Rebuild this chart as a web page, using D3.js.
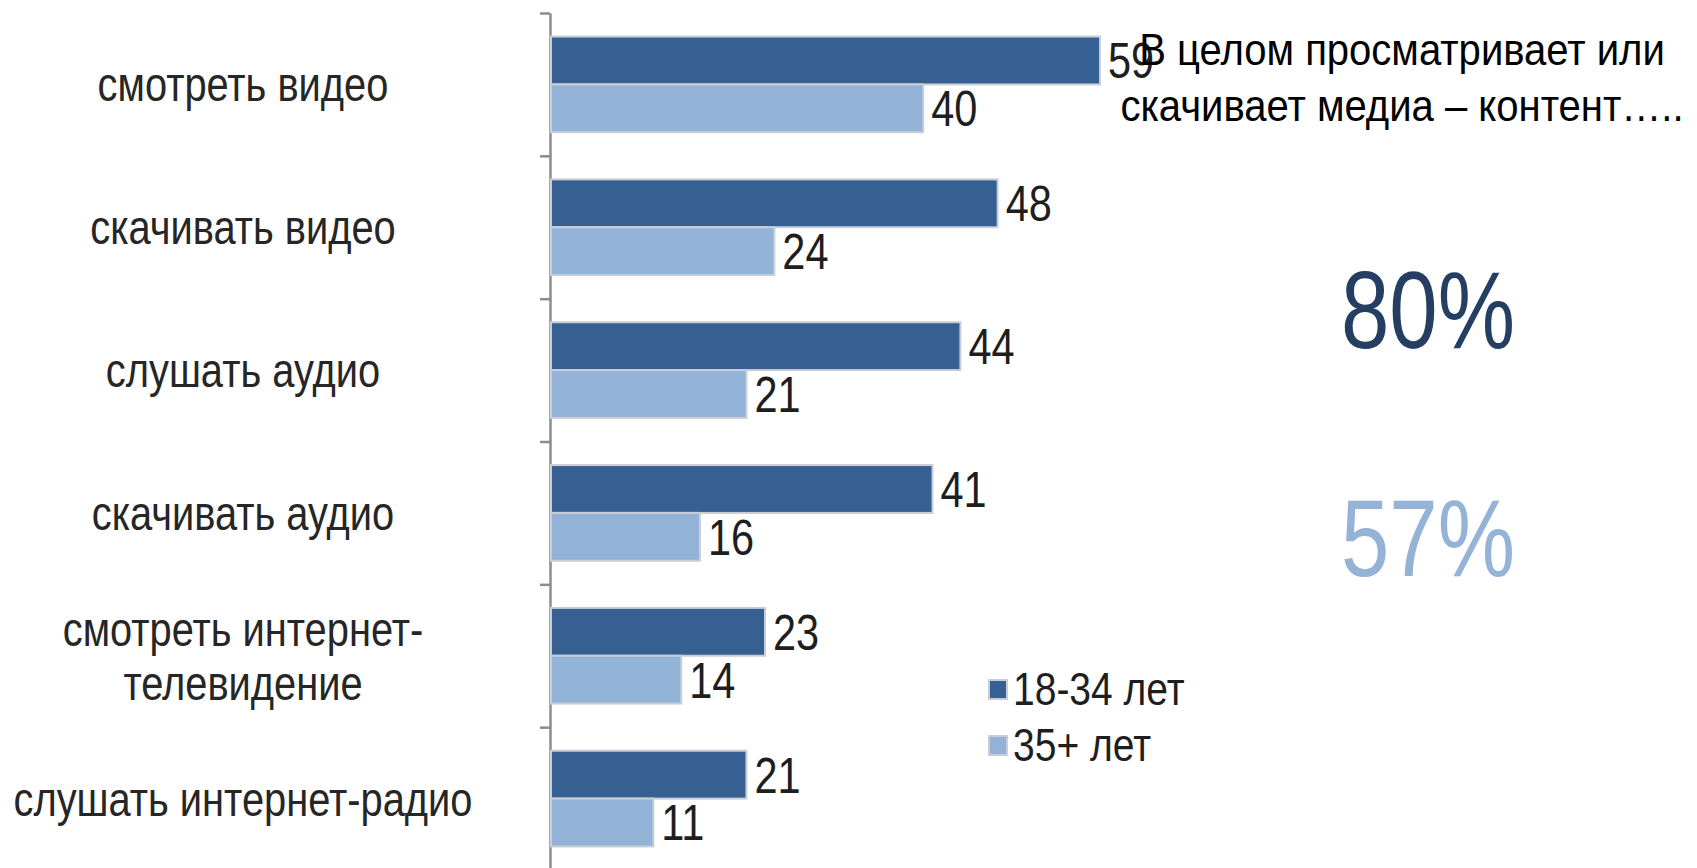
<!DOCTYPE html>
<html>
<head>
<meta charset="utf-8">
<script src="https://cdn.jsdelivr.net/npm/d3@7/dist/d3.min.js"></script>
<style>
  html, body { margin: 0; padding: 0; background: #fff; }
  svg { display: block; }
  text { font-family: "Liberation Sans", Arial, sans-serif; }
</style>
</head>
<body>
<svg id="chart" width="1697" height="868"></svg>
<script>
// Media consumption by age group, % of respondents
const categories = [
  "смотреть видео",
  "скачивать видео",
  "слушать аудио",
  "скачивать аудио",
  "смотреть интернет-телевидение",
  "слушать интернет-радио"
];
const categoryLines = [
  ["смотреть видео"],
  ["скачивать видео"],
  ["слушать аудио"],
  ["скачивать аудио"],
  ["смотреть интернет-", "телевидение"],
  ["слушать интернет-радио"]
];
const seriesNames = ["18-34 лет", "35+ лет"];
const young = [59, 48, 44, 41, 23, 21];
const older = [40, 24, 21, 16, 14, 11];
const totalValues = [80, 57];
const titleLines = ["В целом просматривает или", "скачивает медиа – контент….."];

const colors = ["#365f92", "#93b2d8"];
const totalColors = ["#243f61", "#95b3d7"];

// condensed lettering: glyphs are squeezed horizontally
const SX = 0.83;

const svg = d3.select("#chart");

const plotTop = 13, plotBottom = 870, axisX = 550;

const y = d3.scaleBand()
  .domain(categories)
  .range([plotTop, plotBottom])
  .paddingInner(0.33)
  .paddingOuter(0.165);

const ySub = d3.scaleBand()
  .domain(seriesNames)
  .range([0, y.bandwidth()]);

const x = d3.scaleLinear()
  .domain([0, 59])
  .range([axisX + 1, 1100]);

// category axis with ticks between groups
const yEdges = d3.scaleLinear().domain([0, categories.length]).range([plotTop, plotBottom]);
const axis = svg.append("g")
  .attr("transform", `translate(${axisX},0)`)
  .call(d3.axisLeft(yEdges).tickValues(d3.range(categories.length + 1)).tickSize(10).tickSizeOuter(0).tickFormat(""));
axis.select(".domain").attr("stroke", "#8c8c8c").attr("stroke-width", 2.5);
axis.selectAll(".tick line").attr("stroke", "#8c8c8c").attr("stroke-width", 2.5);

const rows = categories.map((c, i) => ({ cat: c, lines: categoryLines[i], vals: [young[i], older[i]] }));

const groups = svg.append("g").selectAll("g")
  .data(rows)
  .join("g")
  .attr("transform", d => `translate(0,${y(d.cat)})`);

// bars
groups.selectAll("rect")
  .data(d => d.vals.map((v, j) => ({ v, s: seriesNames[j], j })))
  .join("rect")
  .attr("x", x(0))
  .attr("y", d => ySub(d.s))
  .attr("width", d => x(d.v) - x(0))
  .attr("height", ySub.bandwidth())
  .attr("fill", d => colors[d.j])
  .attr("stroke", "#c9ced6")
  .attr("stroke-width", 2);

// value labels
groups.selectAll("text.val")
  .data(d => d.vals.map((v, j) => ({ v, s: seriesNames[j], j })))
  .join("text")
  .attr("class", "val")
  .attr("transform", `scale(${SX},1)`)
  .attr("x", d => (x(d.v) + 8) / SX)
  .attr("y", d => ySub(d.s) + ySub.bandwidth() / 2 + 18)
  .attr("font-size", 50)
  .attr("fill", "#1e1e1e")
  .text(d => d.v);

// category labels
groups.append("text")
  .attr("text-anchor", "middle")
  .attr("transform", `scale(${SX},1)`)
  .attr("font-size", 48)
  .attr("fill", "#262626")
  .each(function (d) {
    const t = d3.select(this);
    const lh = 54;
    const y0 = y.bandwidth() / 2 + 17 - (d.lines.length - 1) * lh / 2;
    d.lines.forEach((ln, k) => {
      t.append("tspan").attr("x", 243 / SX).attr("y", y0 + k * lh).text(ln);
    });
  });

// legend
const legend = svg.append("g").attr("transform", "translate(989,680)");
const lg = legend.selectAll("g")
  .data(seriesNames)
  .join("g")
  .attr("transform", (d, i) => `translate(0,${i * 56})`);
lg.append("rect")
  .attr("width", 18).attr("height", 19)
  .attr("fill", (d, i) => colors[i])
  .attr("stroke", "#c9ced6").attr("stroke-width", 2);
lg.append("text")
  .attr("transform", `scale(${SX},1)`)
  .attr("x", 24 / SX).attr("y", 25)
  .attr("font-size", 47)
  .attr("fill", "#1e1e1e")
  .text(d => d);

// headline text
const TSX = 0.89;
const title = svg.append("text")
  .attr("text-anchor", "middle")
  .attr("transform", `scale(${TSX},1)`)
  .attr("font-size", 45)
  .attr("fill", "#000");
titleLines.forEach((ln, k) => {
  title.append("tspan").attr("x", 1402 / TSX).attr("y", 65 + k * 56).text(ln);
});

// overall totals by age group
const NSX = 0.79;
svg.append("g").selectAll("text")
  .data(totalValues)
  .join("text")
  .attr("text-anchor", "middle")
  .attr("transform", `scale(${NSX},1)`)
  .attr("x", 1428 / NSX)
  .attr("y", (d, i) => 348 + i * 228)
  .attr("font-size", 110)
  .attr("fill", (d, i) => totalColors[i])
  .text(d => d + "%");
</script>
</body>
</html>
